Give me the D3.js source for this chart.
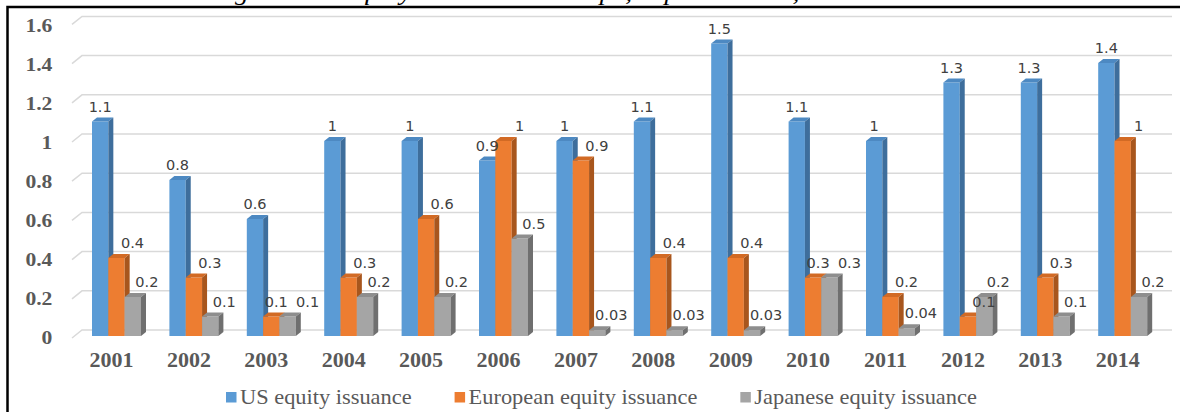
<!DOCTYPE html>
<html>
<head>
<meta charset="utf-8">
<script src="https://cdn.jsdelivr.net/npm/d3@7"></script>
<style>
  html, body { margin: 0; padding: 0; background: #ffffff; }
  svg { display: block; }
</style>
</head>
<body>
<svg id="chart" width="1180" height="412"></svg>
<script>
// ---- data ----
const years = ["2001","2002","2003","2004","2005","2006","2007","2008","2009","2010","2011","2012","2013","2014"];
const seriesNames = ["US equity issuance", "European equity issuance", "Japanese equity issuance"];
const usValues = [1.1, 0.8, 0.6, 1, 1, 0.9, 1, 1.1, 1.5, 1.1, 1, 1.3, 1.3, 1.4];
const euValues = [0.4, 0.3, 0.1, 0.3, 0.6, 1, 0.9, 0.4, 0.4, 0.3, 0.2, 0.1, 0.3, 1];
const jpValues = [0.2, 0.1, 0.1, 0.2, 0.2, 0.5, 0.03, 0.03, 0.03, 0.3, 0.04, 0.2, 0.1, 0.2];
const yTicks = [0, 0.2, 0.4, 0.6, 0.8, 1, 1.2, 1.4, 1.6];
const titleParts = ["Figure 4:", "Equity issuance in Europe, Japan and US, 2001-2014"];

// ---- styles ----
const colors = {
  front: ["#5B9BD5", "#ED7D31", "#A5A5A5"],
  top:   ["#4D89C2", "#D26A24", "#8E8E8E"],
  side:  ["#3E6E9C", "#A8561D", "#6F6F6F"]
};
const labelDx = [0, 16, 14];
const labelDxTied = [0, 5, 20];
const depth = 5, rise = 4;

const svg = d3.select("#chart");
const values = [usValues, euValues, jpValues];

// scales
const x0 = d3.scaleBand().domain(years).range([77.8, 1161.4]).paddingInner(0.367).paddingOuter(0.1835);
const x1 = d3.scaleBand().domain(seriesNames).range([0, x0.bandwidth()]);
const yFront = d3.scaleLinear().domain([0, 1.6]).range([336, 24]);
const yBack = d3.scaleLinear().domain([0, 1.6]).range([330, 16.4]);
const yLab = d3.scaleLinear().domain([0, 1.6]).range([338, 26]);

// title (cut off by top edge)
const title = svg.append("text")
  .attr("font-family", "Liberation Serif, Times New Roman, serif")
  .attr("font-style", "italic")
  .attr("font-size", 24)
  .attr("fill", "#000");
title.append("tspan").attr("x", 211 / 1.13).attr("y", -0.5).text(titleParts[0]);
title.append("tspan").attr("x", 341 / 1.13).attr("y", -0.5).text(titleParts[1]);
title.attr("transform", "scale(1.13,1)");

// frame
svg.append("rect")
  .attr("x", 7.5).attr("y", 7)
  .attr("width", 1300).attr("height", 600)
  .attr("fill", "none").attr("stroke", "#000").attr("stroke-width", 2.5);

// gridlines (back wall with perspective diagonal)
svg.append("g").selectAll("path").data(yTicks).join("path")
  .attr("d", d => `M72,${yBack(d) + 8}L82,${yBack(d)}L1172,${yBack(d)}`)
  .attr("fill", "none").attr("stroke", "#D9D9D9").attr("stroke-width", 1.5);

// y axis labels
const yAxis = svg.append("g").attr("transform", "translate(56,0)")
  .call(d3.axisLeft(yLab).tickValues(yTicks).tickSize(0).tickPadding(3)
    .tickFormat(d => String(+d.toFixed(1))));
yAxis.select(".domain").remove();
yAxis.selectAll("text")
  .attr("font-family", "Liberation Serif, Times New Roman, serif")
  .attr("font-weight", "bold").attr("font-size", 18).attr("fill", "#595959")
  .attr("transform", "scale(1.2,1)");

// x axis labels
const xAxis = svg.append("g").attr("transform", "translate(-5,353)")
  .call(d3.axisBottom(x0).tickSize(0).tickPadding(0));
xAxis.select(".domain").remove();
xAxis.selectAll("text")
  .attr("font-family", "Liberation Serif, Times New Roman, serif")
  .attr("font-weight", "bold").attr("font-size", 20).attr("fill", "#595959")
  .attr("transform", "scale(1.1,1)");

// bars
const barsG = svg.append("g");
const w = x1.bandwidth();
years.forEach((yr, i) => {
  seriesNames.forEach((s, j) => {
    const v = values[j][i];
    const x = x0(yr) + x1(s);
    const yt = yFront(v), yb = yFront(0);
    const g = barsG.append("g");
    g.append("rect").attr("x", x).attr("y", yt).attr("width", w).attr("height", yb - yt)
      .attr("fill", colors.front[j]);
    g.append("path")
      .attr("d", `M${x},${yt}L${x + depth},${yt - rise}L${x + w + depth},${yt - rise}L${x + w},${yt}Z`)
      .attr("fill", colors.top[j]);
    g.append("path")
      .attr("d", `M${x + w},${yt}L${x + w + depth},${yt - rise}L${x + w + depth},${yb - rise}L${x + w},${yb}Z`)
      .attr("fill", colors.side[j]);
  });
});

// data labels
const labG = svg.append("g");
years.forEach((yr, i) => {
  const tied = Math.abs(yFront(euValues[i]) - yFront(jpValues[i])) < 14;
  seriesNames.forEach((s, j) => {
    const v = values[j][i];
    const dx = tied ? labelDxTied[j] : labelDx[j];
    labG.append("text")
      .attr("x", x0(yr) + x1(s) + w / 2 + dx)
      .attr("y", yFront(v) - 10)
      .attr("text-anchor", "middle")
      .attr("font-family", "DejaVu Sans, sans-serif")
      .attr("font-size", 14.5)
      .attr("fill", "#404040")
      .text(String(v));
  });
});

// legend
const leg = svg.append("g");
let lx = 226;
seriesNames.forEach((s, j) => {
  leg.append("rect").attr("x", lx).attr("y", 392).attr("width", 10.5).attr("height", 10.5)
    .attr("fill", colors.front[j]);
  const t = leg.append("text")
    .attr("font-family", "Liberation Serif, Times New Roman, serif")
    .attr("font-size", 20).attr("fill", "#595959")
    .attr("transform", `translate(${lx + 14},404) scale(1.12,1)`)
    .text(s);
  const tw = t.node().getComputedTextLength() * 1.12;
  lx += 14 + tw + 43;
});
</script>
</body>
</html>
